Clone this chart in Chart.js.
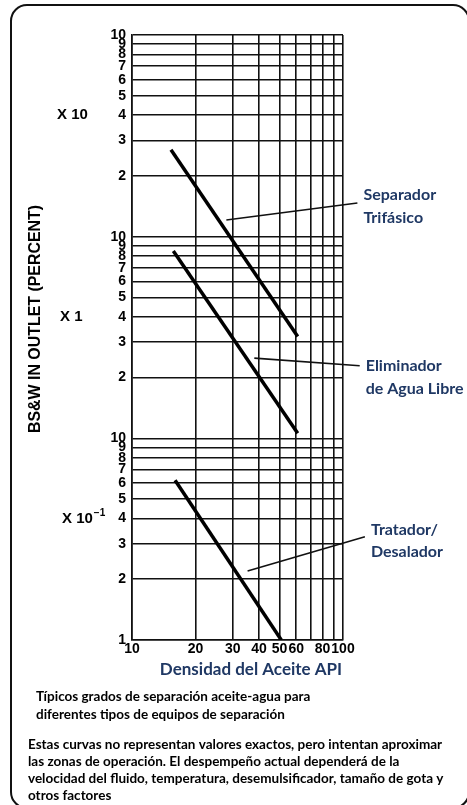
<!DOCTYPE html>
<html>
<head>
<meta charset="utf-8">
<script src="https://cdn.jsdelivr.net/npm/chart.js@4.4.0/dist/chart.umd.min.js"></script>
<style>
  body { margin: 0; background: #fff; }
  #wrap { width: 467px; height: 805px; position: relative; }
</style>
</head>
<body>
<div id="wrap"><canvas id="chart"></canvas></div>
<script>
// Axis ticks (log-log paper)
const xTicks = [10, 20, 30, 40, 50, 60, 70, 80, 90, 100];
const xTickLabels = ["10", "20", "30", "40", "50", "60", "", "80", "", "100"];
const yTicks = [0.1, 0.2, 0.3, 0.4, 0.5, 0.6, 0.7, 0.8, 0.9,
  1, 2, 3, 4, 5, 6, 7, 8, 9,
  10, 20, 30, 40, 50, 60, 70, 80, 90, 100];
const yTickLabels = ["1", "2", "3", "4", "5", "6", "7", "8", "9",
  "10", "2", "3", "4", "5", "6", "7", "8", "9",
  "10", "2", "3", "4", "5", "6", "7", "8", "9", "10"];
const decadeLabels = ["X 10", "X 1", "X 10"];
const decadeLabelAt = [40, 4, 0.4];

// Equipment lines (API gravity -> BS&W %)
const sepX = [15.3, 61];
const sepY = [27, 3.2];
const elimX = [15.7, 61];
const elimY = [8.5, 1.06];
const tratX = [16, 51];
const tratY = [0.62, 0.1];

// Callout leader lines
const sepLeadX = [28, 117];
const sepLeadY = [12.1, 14.7];
const elimLeadX = [38, 120];
const elimLeadY = [2.5, 2.29];
const tratLeadX = [35.3, 127];
const tratLeadY = [0.22, 0.325];

const calloutText = [
  ["Separador", "Trifásico"],
  ["Eliminador", "de Agua Libre"],
  ["Tratador/", "Desalador"],
];

const xTitle = "Densidad del Aceite API";
const captionA = [
  "Típicos grados de separación aceite-agua para",
  "diferentes tipos de equipos de separación",
];
const captionB = [
  "Estas curvas no representan valores exactos, pero intentan aproximar",
  "las zonas de operación. El despempeño actual dependerá de la",
  "velocidad del fluido, temperatura, desemulsificador, tamaño de gota y",
  "otros factores",
];

const navy = "#1f3864";
const numFont = "'Liberation Sans Narrow', 'Liberation Sans', Arial, sans-serif";
const textFont = "Lato, 'Open Sans', sans-serif";

function pts(xs, ys) {
  return xs.map((x, i) => ({ x: x, y: ys[i] }));
}

function mainLine(xs, ys) {
  return {
    data: pts(xs, ys),
    showLine: true,
    borderColor: "#000",
    borderWidth: 3.5,
    pointRadius: 0,
    borderCapStyle: "butt",
  };
}

function leader(xs, ys) {
  return {
    data: pts(xs, ys),
    showLine: true,
    borderColor: "#111",
    borderWidth: 1.6,
    pointRadius: 0,
    clip: false,
  };
}

// Extra drawing: frame, y title, decade multipliers, callouts, captions
const decorPlugin = {
  id: "decor",
  beforeDraw(chart) {
    const ctx = chart.ctx;
    ctx.save();
    ctx.strokeStyle = "#111";
    ctx.lineWidth = 2;
    ctx.beginPath();
    ctx.roundRect(11, 5, 458, 803, 16);
    ctx.stroke();
    ctx.restore();
  },
  afterDraw(chart) {
    const ctx = chart.ctx;
    const xs = chart.scales.x;
    const ys = chart.scales.y;
    ctx.save();

    // y axis title, squeezed to the reference length
    const title = "BS&W IN OUTLET (PERCENT)";
    ctx.font = "bold 17px " + numFont;
    const w = ctx.measureText(title).width;
    ctx.translate(35, 319);
    ctx.rotate(-Math.PI / 2);
    ctx.scale(Math.min(1, 228 / w), 1);
    ctx.fillStyle = "#000";
    ctx.textAlign = "center";
    ctx.textBaseline = "middle";
    ctx.fillText(title, 0, 0);
    ctx.restore();

    // decade multipliers
    ctx.save();
    ctx.fillStyle = "#000";
    ctx.textBaseline = "middle";
    decadeLabels.forEach((t, i) => {
      const y = ys.getPixelForValue(decadeLabelAt[i]);
      const x = i === 1 ? 60 : i === 0 ? 57 : 62;
      ctx.font = "bold 15px " + numFont;
      ctx.fillText(t, x, y);
      if (i === 2) {
        const tw = ctx.measureText(t).width;
        ctx.font = "bold 10px " + numFont;
        ctx.fillText("−1", x + tw + 1, y - 5);
      }
    });
    ctx.restore();

    // callout labels next to leader ends
    ctx.save();
    ctx.fillStyle = navy;
    ctx.font = "bold 16px " + textFont;
    ctx.textBaseline = "middle";
    const offs = [[-8, 15], [0, 23], [-7, 15]];
    [3, 4, 5].forEach((di, i) => {
      const d = chart.data.datasets[di].data;
      const end = d[d.length - 1];
      const px = xs.getPixelForValue(end.x) + 6;
      const py = ys.getPixelForValue(end.y);
      ctx.fillText(calloutText[i][0], px, py + offs[i][0]);
      ctx.fillText(calloutText[i][1], px, py + offs[i][1]);
    });

    // x axis title, sitting a bit right of the plot centre as in the source
    ctx.textAlign = "center";
    ctx.font = "bold 17px " + textFont;
    ctx.fillText(xTitle, 251, 670);
    ctx.restore();

    // captions
    ctx.save();
    ctx.fillStyle = "#000";
    ctx.font = "bold 13.5px " + textFont;
    ctx.textBaseline = "middle";
    captionA.forEach((t, i) => ctx.fillText(t, 36, 697 + i * 18));
    captionB.forEach((t, i) => ctx.fillText(t, 28, 745 + i * 16.8));
    ctx.restore();
  },
};

const data = {
  datasets: [
    mainLine(sepX, sepY),
    mainLine(elimX, elimY),
    mainLine(tratX, tratY),
    leader(sepLeadX, sepLeadY),
    leader(elimLeadX, elimLeadY),
    leader(tratLeadX, tratLeadY),
  ],
};

const options = {
  responsive: true,
  maintainAspectRatio: false,
  animation: false,
  layout: {
    padding: { left: 0, top: 35, right: 124, bottom: 123 },
  },
  scales: {
    x: {
      type: "logarithmic",
      min: 10,
      max: 100,
      afterBuildTicks: (scale) => {
        scale.ticks = xTicks.map((v) => ({ value: v }));
      },
      afterFit: (scale) => {
        scale.height = 42;
      },
      ticks: {
        autoSkip: false,
        maxRotation: 0,
        padding: 1,
        color: "#000",
        font: { family: numFont, size: 14, weight: "bold" },
        callback: (value, index) => xTickLabels[index],
      },
      grid: {
        color: "#111",
        lineWidth: 1.6,
        drawTicks: false,
      },
      border: { color: "#111", width: 1.6 },
    },
    y: {
      type: "logarithmic",
      min: 0.1,
      max: 100,
      afterBuildTicks: (scale) => {
        scale.ticks = yTicks.map((v) => ({ value: v }));
      },
      afterFit: (scale) => {
        scale.width = 132;
      },
      ticks: {
        autoSkip: false,
        padding: 6,
        color: "#000",
        font: { family: numFont, size: 14, weight: "bold" },
        callback: (value, index) => yTickLabels[index],
      },
      grid: {
        color: "#111",
        lineWidth: 1.6,
        drawTicks: false,
      },
      border: { color: "#111", width: 1.6 },
    },
  },
  plugins: {
    legend: { display: false },
    tooltip: { enabled: false },
  },
};

new Chart(document.getElementById("chart").getContext("2d"), {
  type: "scatter",
  data: data,
  options: options,
  plugins: [decorPlugin],
});
</script>
</body>
</html>
